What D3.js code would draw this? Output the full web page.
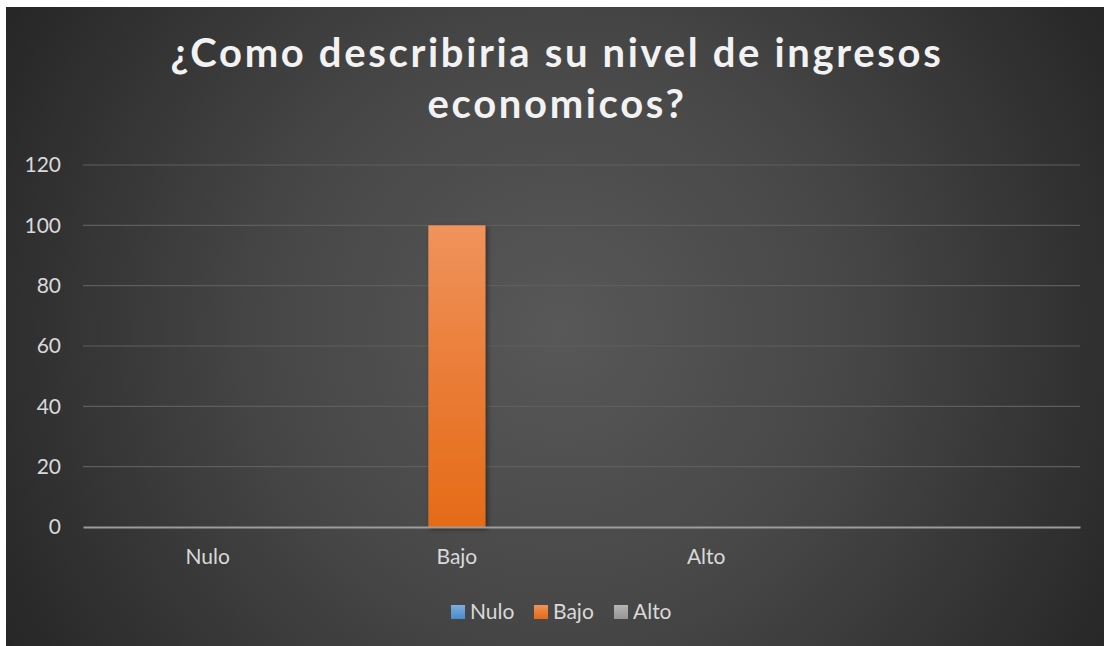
<!DOCTYPE html>
<html>
<head>
<meta charset="utf-8">
<script src="https://cdn.jsdelivr.net/npm/d3@7"></script>
<style>
  html, body { margin: 0; padding: 0; background: #ffffff; }
  svg { display: block; }
</style>
</head>
<body>
<svg id="chart" width="1104" height="646"></svg>
<script>
// Survey answers: income level
const categories = ["Nulo", "Bajo", "Alto", ""];
const seriesNames = ["Nulo", "Bajo", "Alto"];
const nuloValues = [0, 0, 0, 0];
const bajoValues = [0, 100, 0, 0];
const altoValues = [0, 0, 0, 0];
const yTicks = [0, 20, 40, 60, 80, 100, 120];
const titleLines = ["¿Como describiria su nivel de ingresos", "economicos?"];

const seriesValues = [nuloValues, bajoValues, altoValues];
const seriesColors = [
  { top: "#7cb0e0", bottom: "#4a8ccc" },
  { top: "#f0935c", bottom: "#e56b17" },
  { top: "#b5b5b5", bottom: "#969696" }
];

const svg = d3.select("#chart");
const W = 1104, H = 646;
const frame = { x: 6, y: 7, w: W - 6, h: H - 7 };
const plot = { left: 83, right: 1080, top: 165, bottom: 527 };
const font = "Lato, 'Open Sans', sans-serif";

const defs = svg.append("defs");

// Chart area background: soft radial light in the middle, dark toward the corners
const bg = defs.append("radialGradient")
  .attr("id", "bgGrad")
  .attr("gradientUnits", "userSpaceOnUse")
  .attr("cx", 560).attr("cy", 330).attr("r", 640);
bg.append("stop").attr("offset", "0%").attr("stop-color", "#585858");
bg.append("stop").attr("offset", "45%").attr("stop-color", "#474747");
bg.append("stop").attr("offset", "100%").attr("stop-color", "#262626");

seriesColors.forEach((c, i) => {
  const g = defs.append("linearGradient")
    .attr("id", "barGrad" + i)
    .attr("x1", 0).attr("y1", 0).attr("x2", 0).attr("y2", 1);
  g.append("stop").attr("offset", "0%").attr("stop-color", c.top);
  g.append("stop").attr("offset", "50%").attr("stop-color", d3.interpolateRgb(c.top, c.bottom)(0.55));
  g.append("stop").attr("offset", "100%").attr("stop-color", c.bottom);
});

const shadow = defs.append("filter").attr("id", "barShadow")
  .attr("x", "-30%").attr("y", "-10%").attr("width", "160%").attr("height", "120%");
shadow.append("feDropShadow")
  .attr("dx", 2).attr("dy", 2).attr("stdDeviation", 2.5)
  .attr("flood-color", "#000").attr("flood-opacity", 0.45);

svg.append("rect")
  .attr("x", frame.x).attr("y", frame.y)
  .attr("width", frame.w).attr("height", frame.h)
  .attr("fill", "url(#bgGrad)");

// Title: spread the letters so the first line spans the intended width
const titleWidth = 773;
const title = svg.append("text")
  .attr("text-anchor", "middle")
  .attr("fill", "#f2f2f2")
  .attr("font-family", font)
  .attr("font-weight", 700)
  .attr("font-size", 40);
const titleSpans = titleLines.map((t, i) =>
  title.append("tspan")
    .attr("x", 557)
    .attr("y", 67 + i * 51)
    .text(t));
const natural = titleSpans[0].node().getComputedTextLength();
const spacing = Math.max(0, (titleWidth - natural) / (titleLines[0].length));
title.attr("letter-spacing", spacing.toFixed(2) + "px");

// Scales
const x = d3.scaleBand().domain(categories).range([plot.left, plot.right]).padding(0);
const xInner = d3.scaleBand().domain(seriesNames).range([0, x.bandwidth()])
  .paddingInner(0).paddingOuter(0.684);
const y = d3.scaleLinear().domain([0, 120]).range([plot.bottom, plot.top]);

// Gridlines
svg.append("g")
  .selectAll("line")
  .data(yTicks.filter(d => d > 0))
  .join("line")
  .attr("x1", plot.left).attr("x2", plot.right)
  .attr("y1", d => y(d)).attr("y2", d => y(d))
  .attr("stroke", "#5e5e5e")
  .attr("stroke-width", 1.2);

// Y axis labels
const yAxis = d3.axisLeft(y).tickValues(yTicks).tickSize(0).tickPadding(0);
const yg = svg.append("g")
  .attr("transform", `translate(${plot.left - 22},0)`)
  .call(yAxis);
yg.select(".domain").remove();
yg.selectAll("text")
  .attr("fill", "#d9d9d9")
  .attr("font-family", font)
  .attr("font-size", 21);

// Bars
const barData = [];
categories.forEach((cat, ci) => {
  seriesNames.forEach((s, si) => {
    barData.push({ cat, series: s, si, value: seriesValues[si][ci] });
  });
});
svg.append("g")
  .selectAll("rect")
  .data(barData.filter(d => d.value > 0))
  .join("rect")
  .attr("x", d => x(d.cat) + xInner(d.series))
  .attr("width", xInner.bandwidth())
  .attr("y", d => y(d.value))
  .attr("height", d => y(0) - y(d.value))
  .attr("fill", d => `url(#barGrad${d.si})`)
  .attr("filter", "url(#barShadow)");

// Category axis
const xAxis = d3.axisBottom(x).tickSize(0).tickPadding(0);
const xg = svg.append("g")
  .attr("transform", `translate(0,${plot.bottom})`)
  .call(xAxis);
xg.select(".domain")
  .attr("stroke", "#a6a6a6")
  .attr("stroke-opacity", 0.9)
  .attr("stroke-width", 2.2);
xg.selectAll("text")
  .attr("fill", "#d9d9d9")
  .attr("font-family", font)
  .attr("font-size", 21)
  .attr("dy", "1.75em");

// Legend
const legend = svg.append("g");
const legendX = [451, 534, 614];
seriesNames.forEach((name, i) => {
  const g = legend.append("g").attr("transform", `translate(${legendX[i]},605)`);
  g.append("rect").attr("width", 14).attr("height", 14)
    .attr("fill", `url(#barGrad${i})`);
  g.append("text")
    .attr("x", 19).attr("y", 13.5)
    .attr("fill", "#d9d9d9")
    .attr("font-family", font)
    .attr("font-size", 21)
    .text(name);
});
</script>
</body>
</html>
